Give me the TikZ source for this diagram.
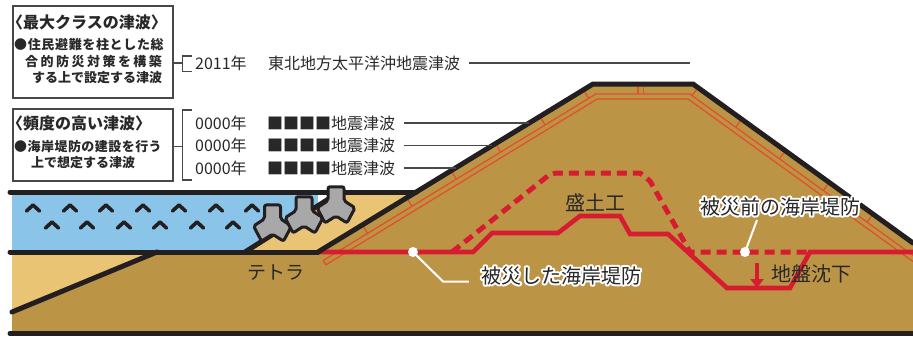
\documentclass[tikz,border=0pt]{standalone}
\usepackage{fontspec}
\newfontfamily\jp{Noto Sans CJK JP}
\usetikzlibrary{arrows.meta}

\definecolor{inkc}{RGB}{35,31,32}
\definecolor{txt}{RGB}{40,40,40}
\definecolor{frame}{RGB}{72,72,72}
\definecolor{sea}{RGB}{138,197,233}
\definecolor{sand}{RGB}{232,196,116}
\definecolor{soil}{RGB}{188,148,70}
\definecolor{dikered}{RGB}{214,28,48}
\definecolor{revet}{RGB}{226,80,46}
\definecolor{tetra}{RGB}{168,168,168}

\newcommand\track[1]{\addfontfeatures{LetterSpace=#1}}
% text with a white outline: a stroked white copy under the normal text
\newcommand\outlined[1]{%
  \rlap{\color{white}\special{pdf:literal direct 2 Tr 4 w 1 j}#1\special{pdf:literal direct 0 Tr}}#1}

\tikzset{
  tetrapod/.pic={
    \filldraw[fill=tetra, draw=inkc, line width=3pt, rounded corners=2pt,
      line join=round, yscale=1.1]
      (-8,-17.3) -- (8,-17.3) -- (8,-4.62) -- (19.0,1.82) -- (11.0,15.6)
      -- (0,9.24) -- (-11.0,15.6) -- (-19.0,1.82) -- (-8,-4.62) -- cycle;
  }
}

\begin{document}
\begin{tikzpicture}[x=1pt,y=-1pt,
  outline/.style={draw=inkc, line width=5pt, line cap=round, line join=round},
  revline/.style={draw=revet, line width=1.3pt},
  dmg/.style={draw=dikered, line width=4.6pt, line join=miter},
  orig/.style={draw=dikered, line width=5pt, dash pattern=on 10pt off 6pt},
  wave/.style={draw=inkc, line width=3.6pt, line cap=round, line join=round},
  pointer/.style={draw=white, line width=2pt},
  thinline/.style={draw=frame, line width=1.4pt},
  boxframe/.style={draw=frame, line width=1.6pt, inner sep=0pt, rectangle},
  head/.style={font=\jp\bfseries\fontsize{16}{18}\selectfont, text=txt, inner sep=0pt},
  body/.style={font=\jp\bfseries\fontsize{13}{15}\selectfont, text=txt, inner sep=0pt},
  ev/.style={font=\jp\fontsize{16}{18}\selectfont, text=txt, inner sep=0pt},
  lbl/.style={font=\jp\fontsize{20}{22}\selectfont, text=txt, inner sep=0pt},
]
\useasboundingbox (0,0) rectangle (913,338);

% ground and sand layers
\fill[soil] (12,252) rectangle (913,333);
\fill[sand] (12,252) -- (157,252) -- (12,312) -- cycle;

% sea and the sand mound at the foot of the embankment
\fill[sea] (12,192) rectangle (318,252);
\fill[sand] (245,252) -- (340,192) -- (416.2,192) -- (318,252) -- cycle;

% embankment body
\fill[soil] (318,252) -- (593,84) -- (693,84) -- (913,243) -- (913,252) -- cycle;

% revetment: double line with ties
\draw[revline] (323.2,260.5) -- (595.8,94) -- (689.8,94) -- (913,255.4);
\draw[revline] (325.8,264.8) -- (597.2,99) -- (688.1,99) -- (913,261.5);
\draw[revline] (323.2,260.5) -- (325.8,264.8);
\foreach \s in {52,104,156,208,260,311}
  \draw[revline] ({318+0.8534*\s+0.5213*2.5},{252-0.5213*\s+0.8534*2.5})
              -- ({318+0.8534*\s+0.5213*10},{252-0.5213*\s+0.8534*10});
\foreach \s in {6,60,114,168,222}
  \draw[revline] ({693+0.8105*\s-0.5858*2.5},{84+0.5858*\s+0.8105*2.5})
              -- ({693+0.8105*\s-0.5858*10},{84+0.5858*\s+0.8105*10});
\draw[revline] (638,86.5) -- (638,94);
\draw[revline] (643.5,86.5) -- (643.5,94);

% levee before the disaster (dashed) and the damaged levee (solid)
\draw[orig] (452,252) -- (549,175) -- (556,173) -- (640,173) -- (650,181)
  -- (690,252) -- (810,252);
\draw[dmg] (318,252) -- (473,252) -- (492,233) -- (558,233) -- (580,216)
  -- (620,216) -- (630,234) -- (668,234) -- (727,288) -- (790,288)
  -- (810,252) -- (913,252);

% outlines
\draw[outline] (10,192) -- (416.2,192);
\draw[outline] (10,252) -- (318,252);
\draw[outline] (12,312) -- (157,252);
\draw[outline] (245,252) -- (338,193);
\draw[outline] (318,252) -- (593,84) -- (693,84) -- (913,243);
\draw[outline, line cap=butt] (10,333.5) -- (913,333.5);
\fill[inkc] (10,333.5) circle (2.5pt);

% waves
\foreach \x in {33,70,106,143,179,216,252}
  \draw[wave] (\x-6.5,211) -- (\x,205) -- (\x+6.5,211);
\foreach \x in {52,87,124,160,197,233}
  \draw[wave] (\x-6.5,228) -- (\x,222) -- (\x+6.5,228);

% tetrapods
\pic (tpA) at (272.5,224) {tetrapod};
\pic (tpB) at (304,215.8) {tetrapod};
\pic (tpC) at (336,205.8) {tetrapod};

% subsidence arrow
\draw[dikered, line width=4pt, -{Triangle[width=13pt,length=9pt]}] (757,263) -- (757,288);

% labels in the section
\node[lbl] (lblPre) at (780,206.5) {\outlined{被災前の海岸堤防}};
\node[lbl] (lblDmg) at (561,275.5) {\outlined{被災した海岸堤防}};
\node[lbl] (lblFill) at (595,202.5) {盛土工};
\node[lbl] (lblSub) at (811,273.5) {地盤沈下};
\node[lbl, font=\jp\fontsize{19}{21}\selectfont] (lblTetra) at (276,272.5) {テトラ};

% leader lines
\coordinate (pA) at (413,252);
\coordinate (bendA) at (443,281.5);
\draw[pointer] (pA) -- (bendA) -- ([xshift=-12pt]bendA -| lblDmg.west);
\fill[white] (pA) circle (5pt);
\coordinate (pB) at (745,252);
\coordinate (tipB) at (757,220);
\draw[pointer] (pB) -- (tipB);
\fill[white] (pB) circle (5pt);

% legend boxes
\node[boxframe, minimum width=160pt, minimum height=92pt, anchor=north west] (box1) at (12,5) {};
\node[boxframe, minimum width=160pt, minimum height=72pt, anchor=north west] (box2) at (12,108) {};

\node[head, anchor=west] (h1) at (7,22) {〈最大クラスの津波〉};
\node[body, anchor=west] (b11) at (14,45) {\track{5}●住民避難を柱とした総};
\node[body, anchor=west] (b12) at (25,62) {\track{19}合的防災対策を構築};
\node[body, anchor=west] (b13) at (32,78) {する上で設定する津波};
\node[head, anchor=west] (h2) at (7,123) {〈頻度の高い津波〉};
\node[body, anchor=west] (b21) at (14,147) {\track{3.5}●海岸堤防の建設を行う};
\node[body, anchor=west] (b22) at (31,163) {上で想定する津波};

% brackets
\coordinate (k1) at (182.5,63);
\draw[thinline] (box1.east |- k1) -- (k1);
\draw[thinline] (192,56) -- (182.5,56) -- (182.5,71.5) -- (192,71.5);
\coordinate (k2) at (182.5,146.5);
\draw[thinline] (box2.east |- k2) -- (k2);
\draw[thinline] (192,110) -- (182.5,110) -- (182.5,180) -- (192,180);

% tsunami events
\node[ev, anchor=west] (y1) at (195,63) {2011年};
\node[ev, anchor=west] (e1) at (268,63) {東北地方太平洋沖地震津波};
\coordinate (e1end) at (690,63);
\draw[thinline] ([xshift=9pt]e1.east) -- (e1end);
\foreach \yy/\i in {123/2,145.5/3,168/4} {
  \node[ev, anchor=west] (y\i) at (195,\yy) {0000年};
  \node[ev, anchor=west] (e\i) at (267,\yy) {■■■■地震津波};
  \coordinate (s\i) at ({318+(252-\yy)/0.61091},\yy);
  \draw[thinline] ([xshift=9pt]e\i.east) -- (s\i);
}
\end{tikzpicture}
\end{document}
